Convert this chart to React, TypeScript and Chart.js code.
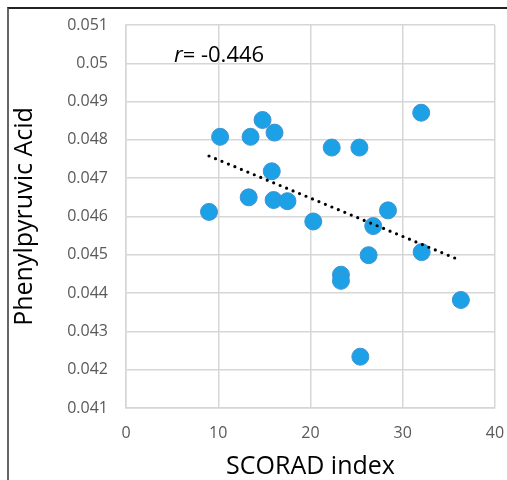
import React, { useEffect, useRef } from "react";
import { Chart, registerables } from "chart.js";

Chart.register(...registerables);

// SCORAD index (x) for each subject
const scoradIndex: number[] = [
  9.0, 10.2, 13.5, 14.8, 16.1, 22.3, 25.3, 32.0, 15.8, 13.3, 16.0,
  17.5, 20.3, 28.4, 26.8, 26.3, 32.05, 23.3, 23.3, 36.3, 25.4,
];
// Phenylpyruvic acid level (y) for each subject
const phenylpyruvicAcid: number[] = [
  0.04612, 0.04808, 0.04808, 0.04852, 0.04819, 0.0478, 0.0478, 0.04871,
  0.04718, 0.0465, 0.04643, 0.0464, 0.04587, 0.04616, 0.04575, 0.04499,
  0.04507, 0.04448, 0.04432, 0.04382, 0.04234,
];
// linear trend line end points
const trendX: number[] = [9.0, 36.3];
const trendY: number[] = [0.04758, 0.04485];

const xTicks: number[] = [0, 10, 20, 30, 40];
const yMin = 0.041;
const yMax = 0.051;
const yStep = 0.001;

const xTitle = "SCORAD index";
const yTitle = "Phenylpyruvic Acid";
const rLabel = "-0.446";
const rLabelPos = { x: 5.2, y: 0.05003 };

const FONT = "'Open Sans', 'DejaVu Sans', sans-serif";

const rPlugin = {
  id: "rLabel",
  afterDraw(chart: any) {
    const { ctx, scales } = chart;
    const px = scales.x.getPixelForValue(rLabelPos.x);
    const py = scales.y.getPixelForValue(rLabelPos.y);
    ctx.save();
    ctx.fillStyle = "#000";
    ctx.textBaseline = "alphabetic";
    ctx.textAlign = "left";
    ctx.font = `italic 22px ${FONT}`;
    ctx.fillText("r", px, py);
    const w = ctx.measureText("r").width;
    ctx.font = `22px ${FONT}`;
    ctx.fillText("= " + rLabel, px + w, py);
    ctx.restore();
  },
};

const zeroPad = (scale: any) => {
  scale.paddingTop = 0;
  scale.paddingBottom = 0;
  scale.paddingLeft = 0;
  scale.paddingRight = 0;
};

export default function App() {
  const canvasRef = useRef<HTMLCanvasElement | null>(null);

  useEffect(() => {
    if (!canvasRef.current) return;
    const points = scoradIndex.map((x, i) => ({ x, y: phenylpyruvicAcid[i] }));
    const trend = trendX.map((x, i) => ({ x, y: trendY[i] }));
    const chart = new Chart(canvasRef.current, {
      type: "scatter",
      data: {
        datasets: [
          {
            label: "trend",
            data: trend,
            showLine: true,
            borderColor: "#000",
            borderWidth: 3.2,
            borderDash: [0, 7],
            borderCapStyle: "round",
            pointRadius: 0,
            pointHoverRadius: 0,
            fill: false,
          } as any,
          {
            label: "data",
            data: points,
            backgroundColor: "#1da1e6",
            borderColor: "#3f92d2",
            borderWidth: 1,
            pointRadius: 8.5,
            pointHoverRadius: 8.5,
          },
        ],
      },
      options: {
        animation: false,
        responsive: false,
        devicePixelRatio: 1,
        layout: { autoPadding: false, padding: { top: 16, right: 12, bottom: 0, left: 0 } },
        plugins: { legend: { display: false }, tooltip: { enabled: false } },
        scales: {
          x: {
            type: "linear",
            min: xTicks[0],
            max: xTicks[xTicks.length - 1],
            afterBuildTicks: (scale: any) => {
              scale.ticks = xTicks.map((v) => ({ value: v }));
            },
            afterFit: (scale: any) => {
              scale.height = 72;
              zeroPad(scale);
            },
            grid: { color: "#d6d6d6", lineWidth: 1.5, drawTicks: false },
            border: { color: "#d6d6d6", width: 1.5 },
            ticks: {
              color: "#595959",
              font: { family: FONT, size: 16 },
              padding: 16,
            },
            title: {
              display: true,
              text: xTitle,
              color: "#000",
              font: { family: FONT, size: 25 },
              padding: { top: 0, bottom: -2 },
            },
          },
          y: {
            type: "linear",
            min: yMin,
            max: yMax,
            ticks: {
              stepSize: yStep,
              color: "#595959",
              font: { family: FONT, size: 16 },
              padding: 18,
              callback: (v: any) => String(Number(Number(v).toFixed(3))),
            },
            afterFit: (scale: any) => {
              scale.width = 117;
              zeroPad(scale);
            },
            grid: { color: "#d6d6d6", lineWidth: 1.5, drawTicks: false },
            border: { color: "#d6d6d6", width: 1.5 },
            title: {
              display: true,
              text: yTitle,
              color: "#000",
              font: { family: FONT, size: 25 },
              padding: { top: 1, bottom: 0 },
            },
          },
        },
      },
      plugins: [rPlugin],
    });
    return () => chart.destroy();
  }, []);

  return (
    <div
      style={{
        position: "relative",
        width: 507,
        height: 480,
        overflow: "hidden",
        background: "#fff",
      }}
    >
      <style>{"html,body{margin:0;padding:0;overflow:hidden;background:#fff}"}</style>
      <div
        style={{
          position: "absolute",
          left: 7,
          top: 7,
          width: 500,
          height: 473,
          boxSizing: "border-box",
          borderTop: "2px solid #222",
          borderLeft: "2px solid #666",
        }}
      />
      <canvas
        ref={canvasRef}
        width={498}
        height={471}
        style={{ display: "block", position: "absolute", left: 9, top: 9 }}
      />
    </div>
  );
}
